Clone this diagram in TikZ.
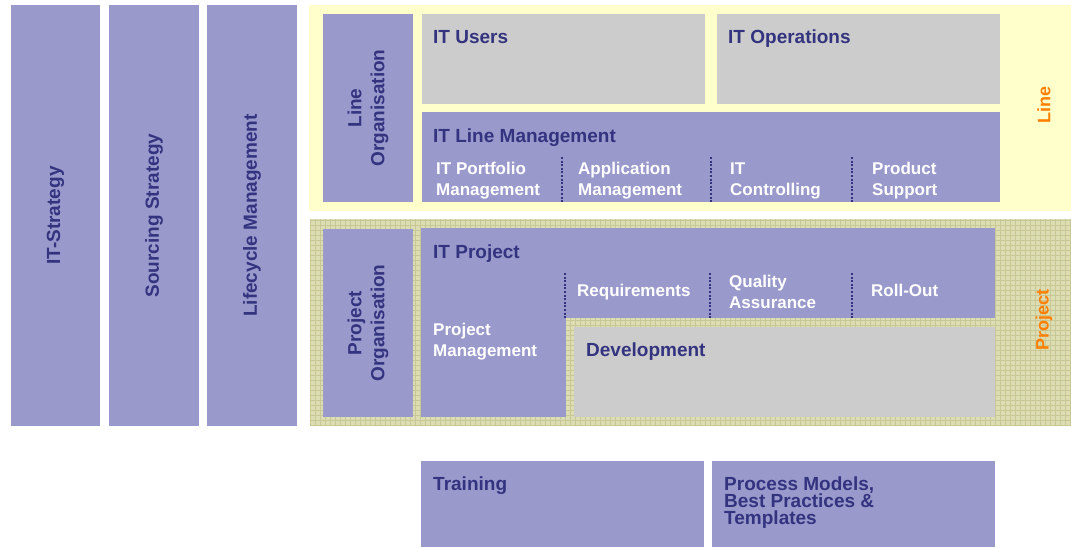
\documentclass[tikz,border=0pt]{standalone}
\usepackage{fontspec}
\setmainfont{Liberation Sans}
\usepackage{tikz}

\definecolor{boxpurple}{RGB}{153,153,204}
\definecolor{boxgray}{RGB}{204,204,204}
\definecolor{navy}{RGB}{51,51,128}
\definecolor{lineyellow}{RGB}{255,255,204}
\definecolor{projbg}{RGB}{221,221,180}
\definecolor{projgrid}{RGB}{200,200,150}
\definecolor{tagorange}{RGB}{255,128,0}

\tikzset{
  pbox/.style={fill=boxpurple, anchor=north west, inner sep=0pt, outer sep=0pt},
  gbox/.style={fill=boxgray, anchor=north west, inner sep=0pt, outer sep=0pt},
  head/.style={text=navy, font=\bfseries\fontsize{19}{23}\selectfont, anchor=base west, inner sep=0pt, align=left},
  vhead/.style={text=navy, font=\bfseries\fontsize{19}{23}\selectfont, rotate=90, inner sep=0pt, align=center},
  sub/.style={text=white, font=\bfseries\fontsize{17}{20.5}\selectfont, anchor=base west, inner sep=0pt, align=left},
  tag/.style={text=tagorange, font=\bfseries\fontsize{18}{20}\selectfont, rotate=90, inner sep=0pt},
  sep/.style={draw=navy, line width=2pt, dash pattern=on 2pt off 1.6pt}
}

\begin{document}
\begin{tikzpicture}[x=1pt,y=-1pt]
\useasboundingbox (0,0) rectangle (1071,547);
% background areas
\fill[lineyellow] (309,5) rectangle (1071,211);
\fill[projbg] (310,219) rectangle (1071,426);
\draw[projgrid, line width=0.8pt, step=5pt] (310,219) grid (1071,426);
% strategy columns
\node[pbox, minimum width=89pt, minimum height=421pt] (itstrat) at (11,5) {};
\node[pbox, minimum width=90pt, minimum height=421pt] (sourcing) at (109,5) {};
\node[pbox, minimum width=90pt, minimum height=421pt] (lifecycle) at (207,5) {};
\node[vhead] (itstratlbl) at (itstrat.center) {IT-Strategy};
\node[vhead] (sourcinglbl) at (sourcing.center) {Sourcing Strategy};
\node[vhead] (lifecyclelbl) at (lifecycle.center) {Lifecycle Management};
% line organisation
\node[pbox, minimum width=90pt, minimum height=188pt] (lineorg) at (323,14) {};
\node[vhead] (lineorglbl) at (lineorg.center) {Line\\Organisation};
\node[gbox, minimum width=283pt, minimum height=90pt] (users) at (422,14) {};
\node[gbox, minimum width=283pt, minimum height=90pt] (ops) at (717,14) {};
\node[pbox, minimum width=578pt, minimum height=90pt] (linemgmt) at (422,112) {};
\node[head] (userslbl) at (433,43) {IT Users};
\node[head] (opslbl) at (728,43) {IT Operations};
\node[head] (linemgmtlbl) at (433,142) {IT Line Management};
% two-line labels sit on the baseline of their last line
\node[sub] (portfolio) at (436,195) {IT Portfolio\\Management};
\node[sub] (appmgmt) at (578,195) {Application\\Management};
\node[sub] (controlling) at (730,195) {IT\\Controlling};
\node[sub] (support) at (872,195) {Product\\Support};
\draw[sep] (562,157) -- (562,202);
\draw[sep] (711,157) -- (711,202);
\draw[sep] (852,157) -- (852,202);
\node[tag] (linetag) at (1044,105) {Line};
% project organisation
\node[pbox, minimum width=90pt, minimum height=188pt] (projorg) at (323,229) {};
\node[vhead] (projorglbl) at (projorg.center) {Project\\Organisation};
\node[pbox, minimum width=574pt, minimum height=90pt] (itproj) at (421,228) {};
\node[pbox, minimum width=145pt, minimum height=99pt] (projmgmt) at (421,318) {};
\node[gbox, minimum width=421pt, minimum height=90pt] (devel) at (574,327) {};
\node[head] (itprojlbl) at (433,258) {IT Project};
\node[sub] (reqs) at (577,296) {Requirements};
\node[sub] (quality) at (729,308) {Quality\\Assurance};
\node[sub] (rollout) at (871,296) {Roll-Out};
\node[sub] (projmgmtlbl) at (433,356) {Project\\Management};
\node[head] (devellbl) at (586,356) {Development};
\draw[sep] (565,273) -- (565,318);
\draw[sep] (710,273) -- (710,318);
\draw[sep] (852,273) -- (852,318);
\node[tag] (projtag) at (1044,320) {Project};
% supporting services
\node[pbox, minimum width=283pt, minimum height=86pt] (training) at (421,461) {};
\node[pbox, minimum width=283pt, minimum height=86pt] (models) at (712,461) {};
\node[head] (traininglbl) at (433,490) {Training};
\node[head, font=\bfseries\fontsize{19}{17}\selectfont] (modelslbl) at (724,524) {Process Models,\\Best Practices \&\\Templates};
\end{tikzpicture}
\end{document}
